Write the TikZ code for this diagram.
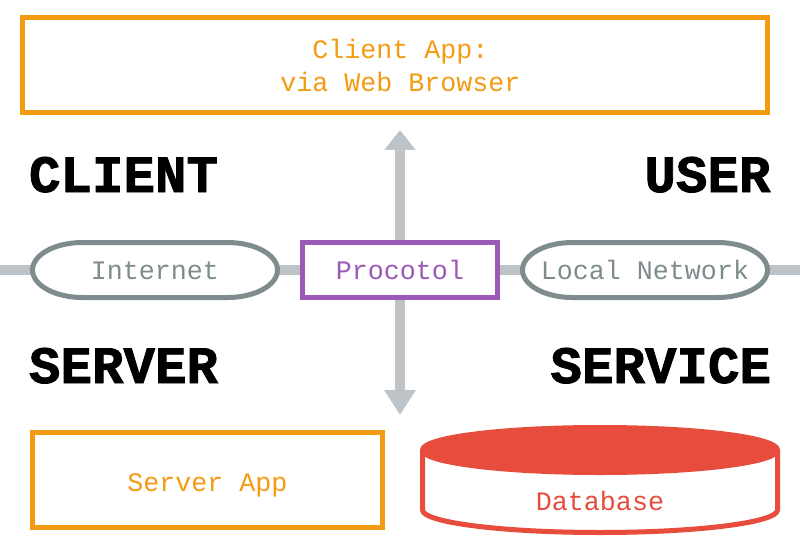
\documentclass[tikz,border=0pt]{standalone}
\usepackage{fontspec}
\setmonofont{Liberation Mono}
\newfontfamily\headfont[FakeBold=1.6]{Liberation Mono Bold}
\usetikzlibrary{arrows.meta}
\definecolor{linkgrey}{HTML}{BDC3C7}
\definecolor{pillgrey}{HTML}{7F8C8D}
\definecolor{appor}{HTML}{F39C12}
\definecolor{protop}{HTML}{9B59B6}
\definecolor{dbred}{HTML}{E74C3C}
\pgfdeclarelayer{back}
\pgfdeclarelayer{middle}
\pgfsetlayers{back,middle,main}
\tikzset{
  x=1pt,y=1pt,
  label text/.style={font=\ttfamily\fontsize{26.67}{33}\selectfont,inner sep=0pt,outer sep=0pt,align=center},
  boxnode/.style={label text,draw=#1,text=#1,line width=5pt,fill=white},
  pillnode/.style={label text,text=pillgrey,minimum width=245pt,minimum height=55pt,text height=18pt,text depth=0pt},
  pillline/.style={draw=pillgrey,fill=white,line width=5pt},
  link/.style={draw=linkgrey,line width=10pt},
  arrowup/.style={link,-{Triangle[width=30pt,length=20pt]}},
  arrowdown/.style={link,-{Triangle[width=30pt,length=25pt]}},
  heading/.style={font=\headfont\fontsize{52.5}{52.5}\selectfont,inner sep=0pt,outer sep=0pt,text=black},
}
\newcommand{\pillshape}[1]{%
  \path[pillline] ([xshift=50pt]#1.north west) -- ([xshift=-50pt]#1.north east)
    arc[start angle=90,end angle=-90,x radius=50pt,y radius=27.5pt]
    -- ([xshift=50pt]#1.south west)
    arc[start angle=270,end angle=90,x radius=50pt,y radius=27.5pt] -- cycle;}
\begin{document}
\begin{tikzpicture}
\useasboundingbox (0,0) rectangle (800,550);
% nodes
\node[boxnode=appor,minimum width=745pt,minimum height=95pt] (client) at (395,485) {\hspace*{11pt}Client App:\\\hspace*{11pt}via Web Browser};
\node[boxnode=protop,minimum width=195pt,minimum height=55pt,text height=18pt,text depth=0pt] (proto) at (400,280) {Procotol};
\node[boxnode=appor,minimum width=350pt,minimum height=95pt,text height=22pt,text depth=0pt] (server) at (207.5,70) {Server App};
\node[pillnode] (internet) at (155,280) {Internet};
\node[pillnode] (localnet) at (645,280) {Local Network};
\node[label text,text=dbred,minimum width=355pt,minimum height=105pt,text height=60pt,text depth=0pt] (db) at (600,70) {Database};
\node[heading,anchor=base west] (lclient) at (29,358) {CLIENT};
\node[heading,anchor=base east] (luser) at (770.5,358) {USER};
\node[heading,anchor=base west] (lserver) at (29,167) {SERVER};
\node[heading,anchor=base east] (lservice) at (771,167) {SERVICE};
\coordinate (leftend) at (0,280);
\coordinate (rightend) at (800,280);
\coordinate (uptip) at (400,420);
\coordinate (downtip) at (400,135);
% connectors
\begin{pgfonlayer}{back}
\path[link] (leftend) -- (internet.west);
\path[link] (internet.east) -- (proto.west);
\path[link] (proto.east) -- (localnet.west);
\path[link] (localnet.east) -- (rightend);
\path[arrowup] (proto.north) -- (uptip);
\path[arrowdown] (proto.south) -- (downtip);
\end{pgfonlayer}
% outlines
\begin{pgfonlayer}{middle}
\pillshape{internet}
\pillshape{localnet}
\path[draw=dbred,fill=white,line width=5pt,line join=round] (db.north west) ++(0,-22.5)
  -- ++(0,-60) arc[start angle=180,end angle=360,x radius=177.5pt,y radius=22.5pt] -- ++(0,60);
\path[draw=dbred,fill=dbred,line width=5pt] ([yshift=-25pt]db.north) ++(0,2.5) ellipse[x radius=177.5pt,y radius=22.5pt];
\end{pgfonlayer}
\end{tikzpicture}
\end{document}
